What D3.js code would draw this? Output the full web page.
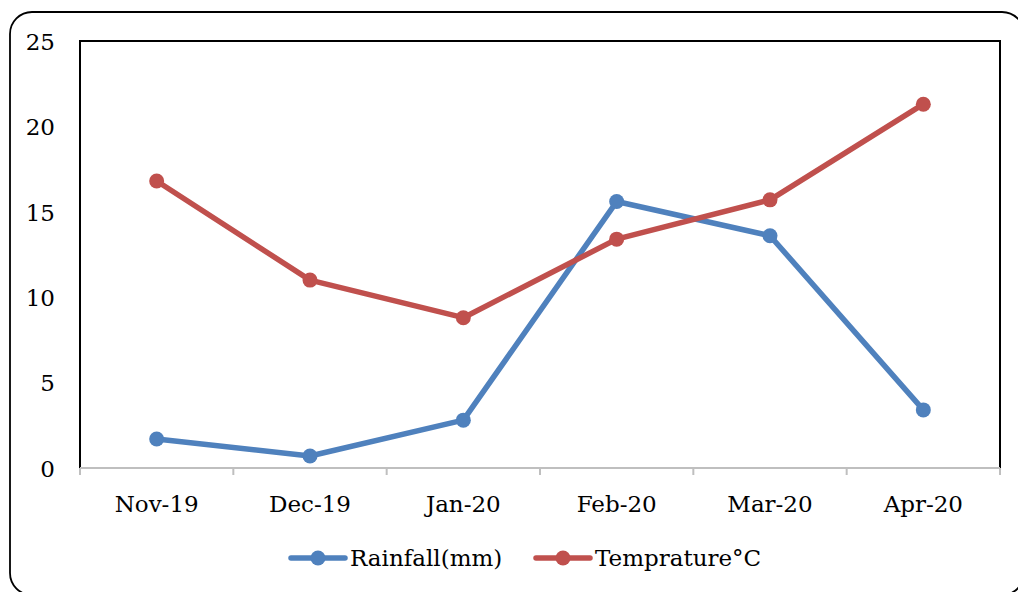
<!DOCTYPE html>
<html>
<head>
<meta charset="utf-8">
<script src="https://cdn.jsdelivr.net/npm/d3@7"></script>
<style>
  html, body { margin: 0; padding: 0; background: #fff; }
  svg { display: block; }
  text { font-family: "DejaVu Serif", "Liberation Serif", serif; fill: #000; }
</style>
</head>
<body>
<svg id="chart" width="1018" height="592"></svg>
<script>
// Monthly rainfall and temperature, Nov 2019 – Apr 2020
const months = ["Nov-19", "Dec-19", "Jan-20", "Feb-20", "Mar-20", "Apr-20"];
const rainfall = [1.7, 0.7, 2.8, 15.6, 13.6, 3.4];
const temperature = [16.8, 11.0, 8.8, 13.4, 15.7, 21.3];
const yTicks = [0, 5, 10, 15, 20, 25];
const seriesNames = ["Rainfall(mm)", "Temprature°C"];
const seriesColors = ["#4F81BD", "#C0504D"];

const FONT = 23;
const svg = d3.select("#chart");
const plot = { left: 80, right: 1000, top: 41, bottom: 468 };

// Rounded outer frame
svg.append("rect")
  .attr("x", 10).attr("y", 12)
  .attr("width", 1014).attr("height", 583)
  .attr("rx", 22).attr("ry", 22)
  .attr("fill", "none").attr("stroke", "#000").attr("stroke-width", 1.8);

const x = d3.scaleBand().domain(months).range([plot.left, plot.right]).padding(0);
const y = d3.scaleLinear().domain([0, 25]).range([plot.bottom, plot.top]);

// Plot area border (left, top, right in black)
svg.append("path")
  .attr("d", `M${plot.left},${plot.bottom}V${plot.top}H${plot.right}V${plot.bottom}`)
  .attr("fill", "none").attr("stroke", "#000").attr("stroke-width", 2);

// Y axis labels
const yAxis = d3.axisLeft(y).tickValues(yTicks).tickSize(0).tickPadding(25);
const gy = svg.append("g").attr("transform", `translate(${plot.left},0)`).call(yAxis);
gy.attr("font-size", FONT).attr("font-family", "DejaVu Serif, serif");
gy.select(".domain").remove();
gy.selectAll("text").attr("dy", "0.36em");

// X axis with ticks at category boundaries
const gx = svg.append("g").attr("transform", `translate(0,${plot.bottom})`);
gx.append("line")
  .attr("x1", plot.left).attr("x2", plot.right)
  .attr("stroke", "#BFBFBF").attr("stroke-width", 2);
const bounds = months.map(m => x(m)).concat([plot.right]);
gx.selectAll("line.tick").data(bounds).join("line")
  .attr("class", "tick")
  .attr("x1", d => d).attr("x2", d => d)
  .attr("y1", 0).attr("y2", 7)
  .attr("stroke", "#BFBFBF").attr("stroke-width", 2);
gx.selectAll("text").data(months).join("text")
  .attr("x", d => x(d) + x.bandwidth() / 2)
  .attr("y", 44)
  .attr("text-anchor", "middle")
  .attr("font-size", FONT)
  .text(d => d);

// Series lines and markers
const line = d3.line()
  .x((d, i) => x(months[i]) + x.bandwidth() / 2)
  .y(d => y(d));

[rainfall, temperature].forEach((vals, k) => {
  svg.append("path")
    .datum(vals)
    .attr("d", line)
    .attr("fill", "none")
    .attr("stroke", seriesColors[k])
    .attr("stroke-width", 5.5)
    .attr("stroke-linejoin", "round")
    .attr("stroke-linecap", "round");
  svg.append("g").selectAll("circle").data(vals).join("circle")
    .attr("cx", (d, i) => x(months[i]) + x.bandwidth() / 2)
    .attr("cy", d => y(d))
    .attr("r", 7.5)
    .attr("fill", seriesColors[k]);
});

// Legend
const legendItems = [
  { x: 291, name: seriesNames[0], color: seriesColors[0] },
  { x: 536, name: seriesNames[1], color: seriesColors[1] }
];
const legend = svg.append("g").attr("transform", "translate(0,558)");
legendItems.forEach(it => {
  const g = legend.append("g").attr("transform", `translate(${it.x},0)`);
  g.append("line").attr("x1", 0).attr("x2", 54)
    .attr("stroke", it.color).attr("stroke-width", 5.5).attr("stroke-linecap", "round");
  g.append("circle").attr("cx", 27).attr("r", 7.5).attr("fill", it.color);
  g.append("text").attr("x", 59).attr("dy", "0.36em")
    .attr("font-size", FONT).text(it.name);
});
</script>
</body>
</html>
